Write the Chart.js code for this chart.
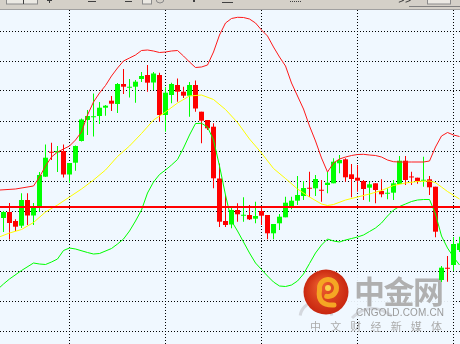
<!DOCTYPE html>
<html><head><meta charset="utf-8">
<script src="https://cdn.jsdelivr.net/npm/chart.js@4.4.1/dist/chart.umd.min.js"></script>
<style>html,body{margin:0;padding:0;background:#d4d0c8;overflow:hidden}canvas{display:block}</style>
</head><body>
<canvas id="c" width="460" height="344"></canvas>
<script>
// ---- Candle data (price units), one entry per bar ----
const opens  = [1113,1119,1110,1105.3,1131,1115.5,1124,1154.3,1179,1178.5,1180,1156.5,1168.3,1190,1211,1214,1215,1223.3,1230.3,1227,1247,1243.5,1244.3,1252,1256,1248.5,1256,1216,1236,1246,1239.3,1235.3,1246,1219.3,1211,1204.3,1152.5,1110,1106.5,1121,1115.5,1116,1112.3,1120,1116,1097.7,1107.7,1113.7,1125,1130.3,1135,1143,1142.7,1141,1146,1147.7,1167.7,1171.7,1156.7,1153.3,1150,1143.3,1147.7,1140,1137.5,1138.3,1147,1170.3,1154.3,1153.3,1150.5,1151.7,1144.3,1051,1063,1066,1081];
const highs  = [1120,1128,1111.7,1137.7,1137.7,1128,1159,1186.5,1188.3,1185,1186.5,1168,1185.5,1212.5,1221,1237.5,1229,1226,1235,1248,1262,1252,1251,1259,1266,1259,1258.3,1243.7,1248.3,1252.5,1244.3,1249,1250.5,1219.3,1211,1207.7,1167.5,1136,1124,1127.7,1133.7,1126,1129.3,1124,1116,1107,1117,1134.3,1134.3,1155,1150,1159.3,1156,1151,1159.3,1172.7,1176,1172.7,1167,1166,1151,1149.3,1147.7,1151.7,1142.7,1151,1175,1175,1159.3,1153.3,1174.3,1155,1144.3,1065,1075,1094,1094.3];
const lows   = [1099,1091.5,1100,1103,1106,1106,1119.5,1154,1171,1159,1153.5,1148.3,1160.3,1189.5,1196,1194.5,1207,1215.3,1220,1218,1237,1233.5,1228.3,1249,1239.3,1241,1209.3,1199.3,1227.7,1229.3,1233,1214.3,1219.3,1187.7,1201,1142.7,1104,1104,1102.7,1109.3,1109.3,1111,1107.7,1106,1091.7,1091.7,1101,1113.7,1121.7,1126,1131,1134,1135,1129.3,1137.7,1147.7,1157.7,1149.3,1133.7,1139.3,1131,1129.3,1127.7,1133.7,1131.7,1131,1147,1146,1146,1147.3,1144.3,1136,1093.7,1049,1049.3,1060,1079];
const closes = [1119,1108,1104.3,1131,1115.5,1124,1156,1173.3,1178.5,1180,1156.5,1168,1185,1211.5,1215,1214.5,1223.3,1225.3,1227.3,1247,1244.3,1244,1249.3,1255,1248.3,1257.5,1216,1238.3,1247,1239.3,1235.3,1246,1222.5,1210.3,1202.7,1152.7,1109.3,1106,1121,1116.7,1116,1111.7,1115,1115.3,1097.7,1107,1114.3,1128.3,1130.3,1136,1143,1142.5,1152,1140.5,1148.3,1169.3,1171,1153.7,1152,1150.3,1142,1146.7,1141,1136.7,1138,1147.7,1170.3,1151,1153.8,1150,1151,1143.7,1099.3,1063.3,1062.5,1087,1087.7];

// ---- Bollinger bands (bar index, value) ----
const upperX = [-0.6,2,5,6,7,8,9,10,11,12,13,14,15,16,17,18,19,20,21,22,23,24,25,26,27,28,29,30,31,32,33,34,35,36,37,38,39,40,41,42,43,44,45,46,47,48,49,50,51,52,53,54,55,56,57,58,59,60,61,62,63,64,65,66,68,70,71,72,73,74,75,76];
const upperY = [1141,1142,1145,1154,1165,1174,1179,1182,1185,1191,1199,1216,1229,1238,1245.5,1255,1263,1270,1273,1276,1280.5,1281,1280,1278.5,1279,1280,1280.5,1275,1269,1263.5,1264,1266,1279,1296,1308,1312.5,1313.7,1313.5,1312,1308,1301,1295,1284,1274,1265,1248,1235,1222,1205,1190,1173,1159,1168,1172,1174,1175.5,1176.5,1176.7,1176,1175.5,1174,1171,1169.3,1169,1169,1169,1170,1184,1195,1198.5,1196,1194.5];
const middleX = [-0.6,1,3,5,7,9,11,13,15,17,19,21,23,25,27,29,31,33,35,37,39,41,43,45,47,49,51,53,54,55,57,59,61,63,65,67,69,71,72,73,74,76];
const middleY = [1094.3,1098,1101.5,1108.5,1119,1126,1134,1142,1151,1161,1174.5,1185,1197.5,1211,1219,1228,1235,1236,1231.5,1221.5,1208.5,1192,1178,1162.5,1152.5,1142,1134,1127,1125.5,1126.5,1131,1134,1137,1140.5,1145.5,1148,1149.5,1150,1148.3,1144,1139.5,1132];
const lowerX = [-0.6,0,1,3,5,6,7,8,9,10,11,12,14,15,16,18,19,20,21,22,23,24,25,26,27,28,29,30,31,32,33,34,35,36,37,38,39,40,41,42,43,44,45,46,47,48,49,50,51,52,53,54,55,56,57,58,59,60,61,62,63,64,65,66,67,68,69,70,71,72,73,74,75,76];
const lowerY = [1043.7,1047,1052,1060.5,1068,1067,1066.5,1069,1072,1080.5,1083,1082,1078.5,1077,1077.5,1082.5,1087,1092,1100,1110,1121,1138,1149,1156.5,1161,1166,1171.5,1183,1196,1207.5,1207.7,1204,1191,1165,1136,1110,1100,1089,1078,1068,1061.5,1055,1049,1045,1044.5,1046,1050,1057,1067.5,1078,1086,1092,1090,1089,1091,1092.5,1094,1096,1099.5,1103,1108,1115,1121,1124.5,1127,1129.5,1131,1131.5,1131.5,1117,1095,1083,1074,1066];

// ---- Level line and axis ticks ----
const levelPrice = 1124;
const priceTicks = [1000,1030,1060,1090,1120,1150,1180,1210,1240,1270,1300];
const barTicks = [11,27,43,59,75];

const idx = opens.map((_, i) => i);
const colors = idx.map(i => closes[i] >= opens[i] ? '#00ff00' : '#ff0000');
const bodies = idx.map(i => {
  let a = opens[i], b = closes[i];
  if (Math.abs(a - b) < 1) { const m = (a + b) / 2; a = m - 0.5; b = m + 0.5; }
  return {x: i, y: [a, b]};
});
const wicks = idx.map(i => ({x: i, y: [lows[i], highs[i]]}));
const pts = (xs, ys) => xs.map((x, k) => ({x, y: ys[k]}));

function fitText(ctx, str, x, y, width) {
  const w = ctx.measureText(str).width;
  const extra = (width - w) / (str.length - 1);
  let cx = x;
  for (const ch of str) { ctx.fillText(ch, cx, y); cx += ctx.measureText(ch).width + extra; }
}

const bgPlugin = {
  id: 'bg',
  beforeDraw(chart) {
    const {ctx, chartArea: a} = chart;
    ctx.save();
    ctx.fillStyle = '#d4d0c8';
    ctx.fillRect(0, 0, chart.width, chart.height);
    ctx.fillStyle = '#f0f8ff';
    ctx.fillRect(a.left, a.top, a.right - a.left, a.bottom - a.top);
    // toolbar strip
    ctx.fillStyle = '#a0a0a0'; ctx.fillRect(0, 9, 460, 1);
    ctx.fillStyle = '#ebe9e3'; ctx.fillRect(7, 0, 30, 4); ctx.fillRect(143, 0, 8, 4); ctx.fillRect(428, 0, 22, 4);
    ctx.strokeStyle = '#8a8a8a'; ctx.lineWidth = 1;
    ctx.strokeRect(6.5, -1, 31, 5); ctx.strokeRect(142.5, -1, 9, 5); ctx.strokeRect(427.5, -1, 23, 5);
    ctx.fillStyle = '#404040';
    ctx.fillRect(23, 0, 1, 4); ctx.fillRect(49, 0, 1, 3); ctx.fillRect(47, 0, 5, 1);
    ctx.fillRect(88, 1, 8, 1); ctx.fillRect(125, 1, 7, 1); ctx.fillRect(193, 0, 2, 2);
    ctx.fillRect(222, 2, 11, 1);
    for (let k = 0; k < 6; k++) ctx.fillRect(290 + k * 2, 1, 1, 1);
    ctx.font = 'bold 8px "DejaVu Sans"'; ctx.textBaseline = 'top';
    ctx.fillText('>>', 398, -3);
    ctx.beginPath(); ctx.arc(160, -1, 4, 0, Math.PI); ctx.stroke();
    ctx.fillStyle = '#808080'; ctx.fillRect(409, 6, 51, 1);
    ctx.restore();
  }
};

const watermark = {
  id: 'wm',
  beforeDatasetsDraw(chart) {
    const ctx = chart.ctx;
    ctx.save();
    ctx.fillStyle = 'rgba(240,248,255,0.93)';
    ctx.fillRect(302, 272, 150, 46);
    // faint brush strokes
    ctx.strokeStyle = 'rgba(190,190,195,0.55)'; ctx.lineWidth = 3;
    ctx.beginPath(); ctx.arc(316, 318, 16, Math.PI * 1.05, Math.PI * 1.95); ctx.stroke();
    ctx.beginPath(); ctx.moveTo(352, 318); ctx.quadraticCurveTo(370, 300, 392, 316); ctx.stroke();
    // red disc
    const g = ctx.createRadialGradient(322, 285, 3, 326, 292, 23);
    g.addColorStop(0, '#ea5a2c'); g.addColorStop(1, '#c8260f');
    ctx.fillStyle = g;
    ctx.beginPath(); ctx.arc(326, 292, 22.5, 0, Math.PI * 2); ctx.fill();
    // swirl
    ctx.strokeStyle = '#f5a623'; ctx.lineWidth = 5; ctx.lineCap = 'round';
    ctx.beginPath(); ctx.arc(328, 288, 8.5, Math.PI * 0.95, Math.PI * 2.55); ctx.stroke();
    ctx.beginPath(); ctx.moveTo(319.5, 290); ctx.quadraticCurveTo(317, 306, 334, 305); ctx.stroke();
    ctx.fillStyle = '#fad24b';
    ctx.beginPath(); ctx.arc(328, 288, 3, 0, Math.PI * 2); ctx.fill();
    // texts
    ctx.fillStyle = '#b0b0b0';
    ctx.textBaseline = 'alphabetic';
    ctx.font = 'bold 31px "Noto Sans CJK SC"';
    fitText(ctx, '中金网', 354, 303, 90);
    ctx.fillStyle = '#9a9a9a';
    ctx.font = '10px "Liberation Sans"';
    fitText(ctx, 'CNGOLD.COM.CN', 356, 316, 88);
    ctx.fillStyle = '#ababab';
    ctx.font = '11px "Noto Sans CJK SC"';
    fitText(ctx, '中文财经新媒体', 310, 331, 132);
    ctx.restore();
  }
};

new Chart(document.getElementById('c'), {
  type: 'bar',
  data: {
    datasets: [
      {type: 'line', data: [{x: -1, y: levelPrice}, {x: 78, y: levelPrice}], borderColor: '#ff0000', borderWidth: 2, pointRadius: 0, order: 1},
      {type: 'line', data: pts(upperX, upperY), borderColor: '#ff1a1a', borderWidth: 1, pointRadius: 0, order: 2},
      {type: 'line', data: pts(middleX, middleY), borderColor: '#ffff00', borderWidth: 1, pointRadius: 0, order: 3},
      {type: 'line', data: pts(lowerX, lowerY), borderColor: '#00ff00', borderWidth: 1, pointRadius: 0, order: 4},
      {data: bodies, backgroundColor: colors, barThickness: 5, grouped: false, inflateAmount: 0, borderWidth: 0, order: 5},
      {data: wicks, backgroundColor: colors, barThickness: 1, grouped: false, inflateAmount: 0, borderWidth: 0, order: 6}
    ]
  },
  options: {
    responsive: false,
    animation: false,
    devicePixelRatio: 1,
    layout: {padding: {top: 10, left: 0, right: 0, bottom: 0}},
    plugins: {legend: {display: false}, tooltip: {enabled: false}},
    scales: {
      x: {
        type: 'linear', min: -3.5 / 6, max: 456.5 / 6, offset: false,
        afterBuildTicks: s => { s.ticks = barTicks.map(v => ({value: v})); },
        ticks: {display: false},
        grid: {color: '#000000', lineWidth: 1, drawTicks: false, offset: false},
        border: {display: false, dash: [1, 2]}
      },
      y: {
        type: 'linear', min: 987, max: 1321,
        afterBuildTicks: s => { s.ticks = priceTicks.map(v => ({value: v})); },
        ticks: {display: false},
        grid: {color: '#000000', lineWidth: 1, drawTicks: false},
        border: {display: false, dash: [1, 2]}
      }
    }
  },
  plugins: [bgPlugin, watermark]
});
</script>
</body></html>
